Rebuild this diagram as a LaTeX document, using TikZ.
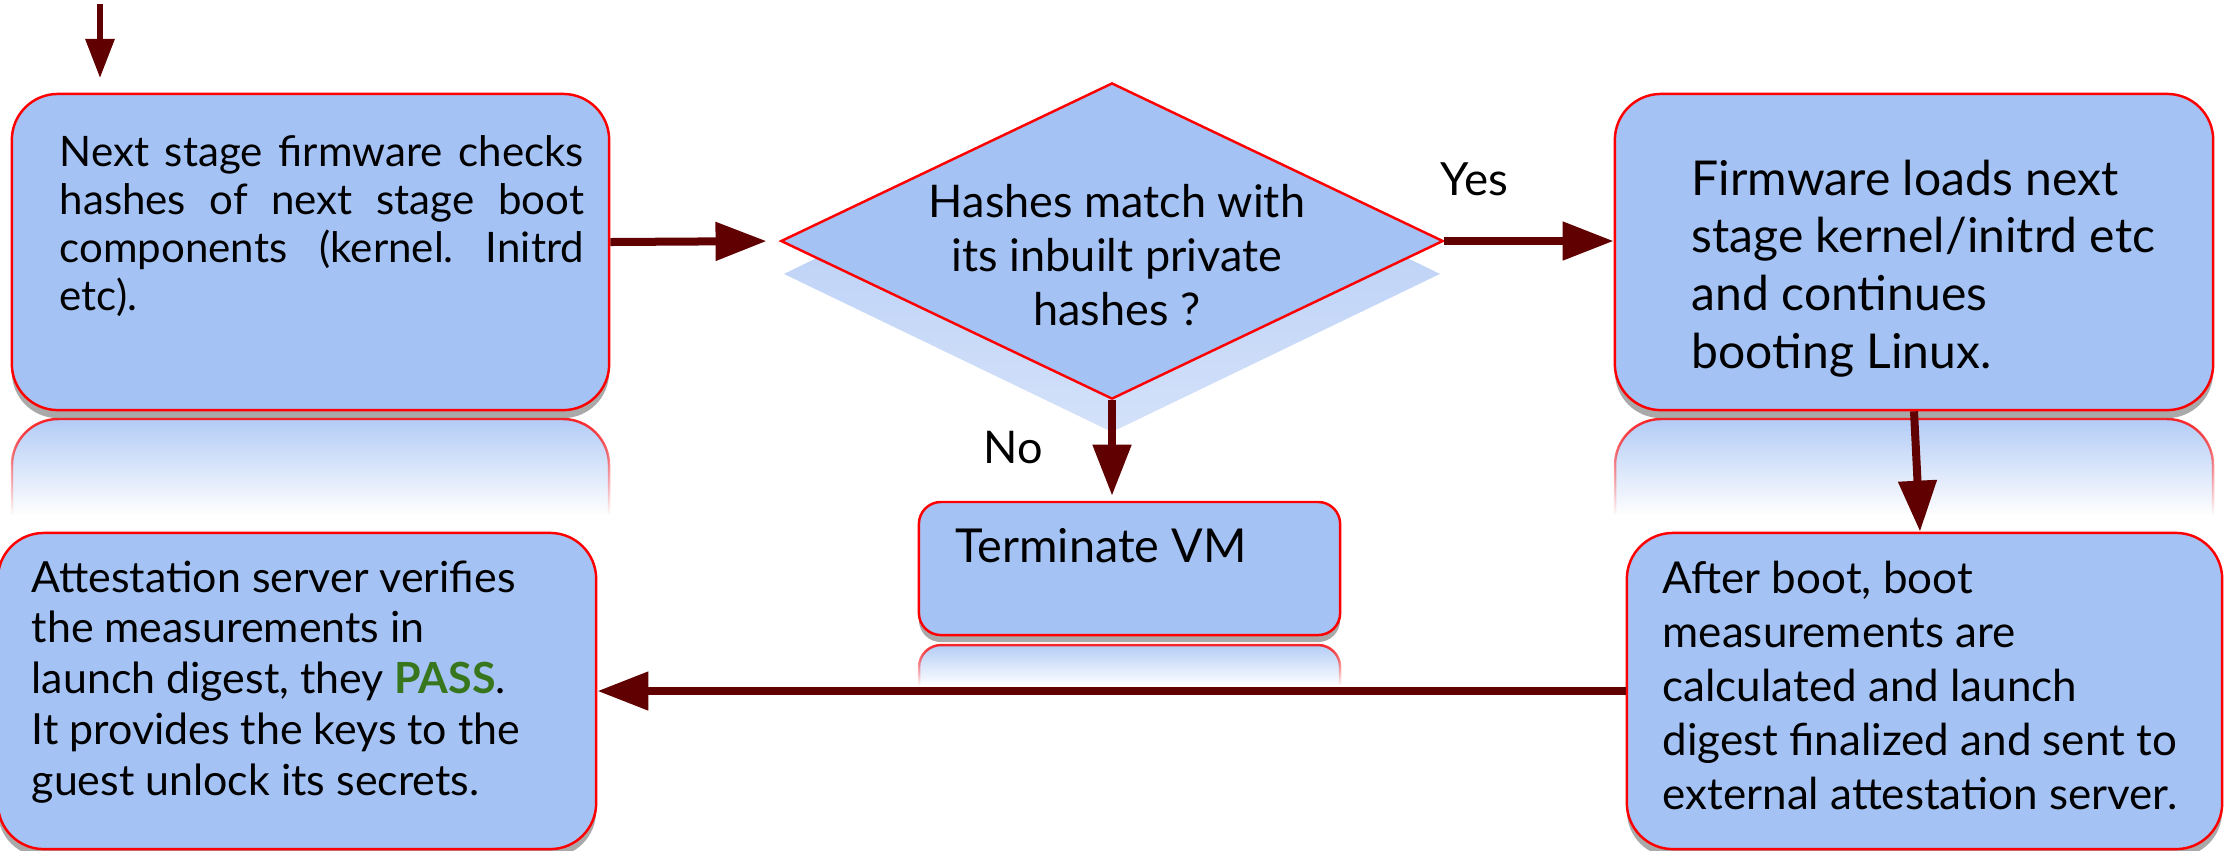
\documentclass[tikz,border=0pt]{standalone}
\usepackage{fontspec}
\setmainfont{Lato}
\usetikzlibrary{arrows.meta,shapes.geometric,shadows,fadings}
\definecolor{boxblue}{HTML}{A4C2F4}
\definecolor{edgered}{HTML}{FF0000}
\definecolor{arrred}{HTML}{600000}
\definecolor{passgreen}{HTML}{38761D}
\definecolor{shadblue}{HTML}{B0C9F5}
\tikzfading[name=reflfade, top color=transparent!15, bottom color=transparent!100]
\tikzfading[name=shadfade, top color=transparent!0, bottom color=transparent!45]
\frenchspacing
\begin{document}
\begin{tikzpicture}[x=0.01cm, y=-0.01cm,
  bigbox/.style={draw=edgered, line width=0.7pt, fill=boxblue, rounded corners=0.46cm,
    inner sep=0pt, minimum height=3.16cm,
    drop shadow={shadow xshift=0pt, shadow yshift=-0.08cm, opacity=0.45, fill=black!75}},
  smallbox/.style={draw=edgered, line width=0.7pt, fill=boxblue, rounded corners=0.22cm,
    inner sep=0pt, minimum width=4.21cm, minimum height=1.33cm,
    drop shadow={shadow xshift=0pt, shadow yshift=-0.07cm, opacity=0.45, fill=black!75}},
  refl/.style={fill=boxblue, draw=edgered, line width=0.7pt, path fading=reflfade},
  dia/.style={diamond, draw=edgered, fill=boxblue, line width=0.7pt,
    minimum width=6.62cm, minimum height=3.16cm, inner sep=0pt},
  txt/.style={inner sep=0pt, text=black},
  arr/.style={draw=arrred, line width=0.08cm, -{Triangle[length=0.51cm, width=0.37cm]}},
  arrs/.style={draw=arrred, line width=0.06cm, -{Triangle[length=0.39cm, width=0.28cm]}}]
\useasboundingbox (0,0) rectangle (2228,850);

% reflections and shadow of the decision
\path[refl, rounded corners=0.46cm] (12,515) -- (12,419) -- (609,419) -- (609,515);
\path[refl, rounded corners=0.46cm] (1615,515) -- (1615,419) -- (2213,419) -- (2213,515);
\path[refl, rounded corners=0.22cm] (919,685) -- (919,645) -- (1340,645) -- (1340,685);
\path[fill=shadblue, path fading=shadfade] (784,274) -- (1112,114) -- (1440,274) -- (1112,432) -- cycle;

% boxes
\node[bigbox, minimum width=5.97cm] (b1) at (310.5,252) {};
\node[dia] (dec) at (1112,241) {};
\node[bigbox, minimum width=5.98cm] (b3) at (1914,252) {};
\node[smallbox] (term) at (1129.5,568.5) {};
\node[bigbox, minimum width=5.98cm] (b4) at (297,691) {};
\node[bigbox, minimum width=5.95cm] (b6) at (1924.5,691) {};

% connectors
\coordinate (topstart) at (100,4);
\coordinate (topend) at (100,78);
\draw[arrs] (topstart) -- (topend);
\draw[arr, shorten >=0.13cm] ([yshift=0.1cm]b1.east) -- (dec.west);
\draw[arr] (dec.east) -- (dec.east -| b3.west);
\draw[arr, shorten >=0.05cm] (dec.south) -- (dec.south |- term.north);
\draw[arr] (b3.south) -- ([xshift=-0.045cm]b6.north);
\draw[arr] (b6.west) -- (b4.east);

% texts
\node[txt, anchor=base west, font=\fontsize{11.95}{13.66}\selectfont] (t1) at (59,166)
  {\parbox[t]{5.24cm}{\makebox[\linewidth][s]{Next stage firmware checks}\\
   \makebox[\linewidth][s]{hashes of next stage boot}\\
   \makebox[\linewidth][s]{components (kernel. Initrd}\\
   etc).}};
\node[txt, anchor=base, font=\fontsize{12.8}{15.36}\selectfont] (tdec) at (1117,217)
  {\parbox[t]{4.6cm}{\centering Hashes match with\\its inbuilt private\\hashes ?}};
\node[txt, anchor=base west, font=\fontsize{13.66}{16.4}\selectfont] (t3) at (1691,195)
  {\parbox[t]{5.2cm}{\raggedright Firmware loads next\\stage kernel/initrd etc\\and continues\\booting Linux.}};
\node[txt, anchor=base west, font=\fontsize{13.3}{16}\selectfont] (tterm) at (955,562) {Terminate VM};
\node[txt, anchor=base west, font=\fontsize{13}{15.6}\selectfont] (tyes) at (1440,195) {Yes};
\node[txt, anchor=base west, font=\fontsize{12.8}{15.4}\selectfont] (tno) at (983,463) {No};
\node[txt, anchor=base west, font=\fontsize{12.2}{14.44}\selectfont] (t4) at (31,592)
  {\parbox[t]{5.6cm}{\raggedright Attestation server verifies\\the measurements in\\launch digest, they \textcolor{passgreen}{\textbf{PASS}}.\\It provides the keys to the\\guest unlock its secrets.}};
\node[txt, anchor=base west, font=\fontsize{12.5}{15.36}\selectfont] (t6) at (1662,593)
  {\parbox[t]{5.5cm}{\raggedright After boot, boot\\measurements are\\calculated and launch\\digest finalized and sent to\\external attestation server.}};
\end{tikzpicture}
\end{document}
